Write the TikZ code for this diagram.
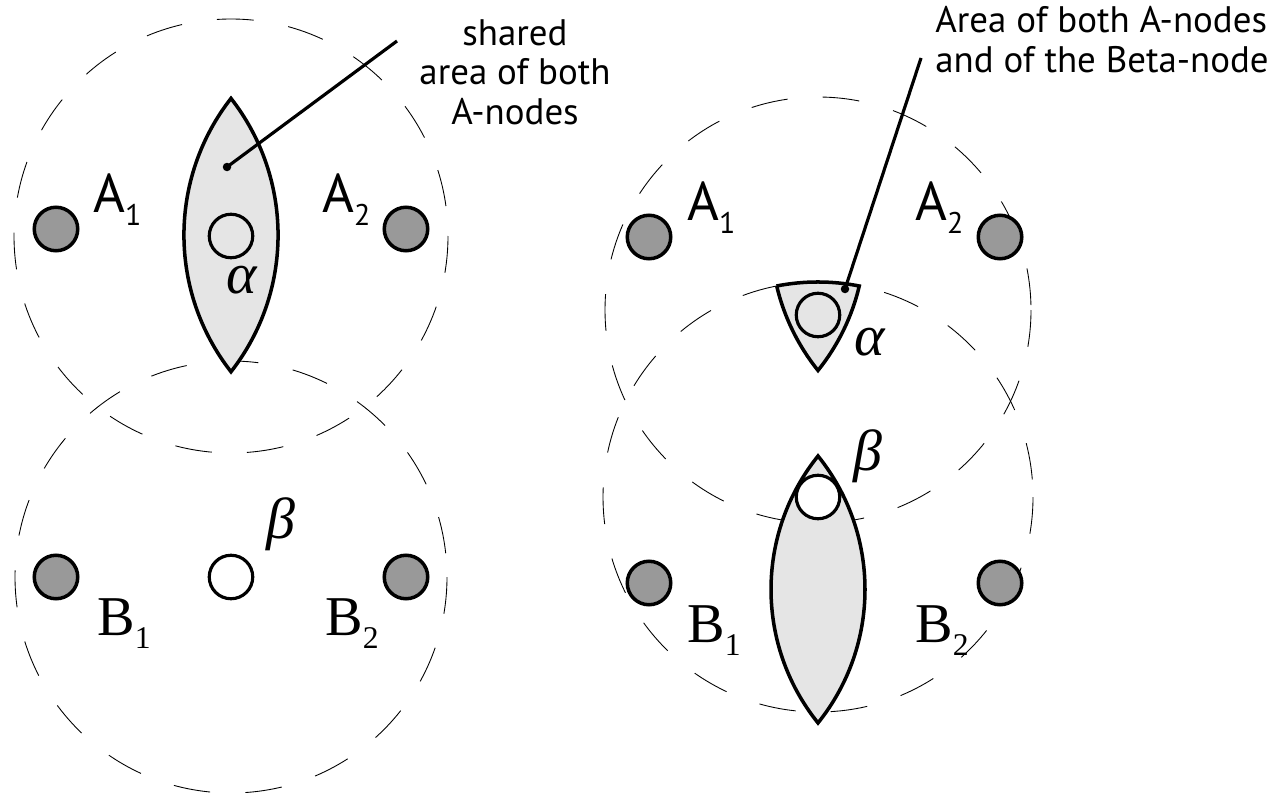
\documentclass[tikz,border=0pt]{standalone}
\usepackage{fontspec}
\setmainfont{PT Sans}
\newfontfamily\labelserif{Liberation Serif}
\usetikzlibrary{backgrounds}

\definecolor{nodegray}{gray}{0.6}
\definecolor{areagray}{gray}{0.9}

\newcommand{\idx}[3]{#2\raisebox{-0.24em}{\fontsize{#1}{#1}\selectfont #3}}

\tikzset{
  sensor/.style={circle, draw, line width=2pt, fill=nodegray, minimum size=0.87cm, inner sep=0pt},
  target/.style={circle, draw, line width=1.8pt, minimum size=0.87cm, inner sep=0pt},
  rangecircle/.style={draw, line width=0.5pt, dash pattern=on 21pt off 20pt},
  area/.style={draw, line width=2pt, fill=areagray},
  leader/.style={line width=1.8pt},
  pindot/.style={circle, fill, minimum size=0.17cm, inner sep=0pt},
  lbl/.style={inner sep=0pt, anchor=base west, font=\fontsize{31}{31}\selectfont},
  lblserif/.style={inner sep=0pt, anchor=base west, font=\fontsize{32}{32}\selectfont\labelserif},
  greek/.style={inner sep=0pt, anchor=base west, font=\fontsize{33}{33}\selectfont\labelserif\itshape},
  note/.style={inner sep=0pt, font=\fontsize{21}{22.5}\selectfont},
}

\begin{document}
\begin{tikzpicture}[x=0.02cm, y=-0.02cm]
	\useasboundingbox (0,0) rectangle (1270,794);

	% left picture
	\node[sensor] (la1) at (56,229) {};
	\node[sensor] (la2) at (406,229) {};
	\node[target] (lal) at (231,236) {};
	\node[target] (lbe) at (231,577) {};
	\node[sensor] (lb1) at (56,577) {};
	\node[sensor] (lb2) at (406,577) {};

	% right picture
	\node[sensor] (ra1) at (649,237) {};
	\node[sensor] (ra2) at (1000,237) {};
	\node[target] (ral) at (818,315) {};
	\node[target, fill=white] (rbe) at (818,497) {};
	\node[sensor] (rb1) at (649,583) {};
	\node[sensor] (rb2) at (1000,583) {};

	\begin{scope}[on background layer]
		\draw[rangecircle] (lal) circle[radius=217];
		\draw[rangecircle] (lbe) circle[radius=216];
		\draw[rangecircle] ([yshift=0.1cm]ral.center) circle[radius=213];
		\draw[rangecircle] (rbe) circle[radius=215];

		% shared area of A1 and A2
		\draw[area] (231,98.4) arc[start angle=218, end angle=142, radius=222]
			arc[start angle=38, end angle=-38, radius=222] -- cycle;
		% A1, A2 and beta
		\draw[area] (776.7,286) arc[start angle=166.7, end angle=141.2, radius=213]
			arc[start angle=38.8, end angle=13.3, radius=213]
			arc[start angle=281.1, end angle=258.9, radius=215] -- cycle;
		% B1 and B2
		\draw[area] (818,456) arc[start angle=218.8, end angle=141.2, radius=213]
			arc[start angle=38.8, end angle=-38.8, radius=213] -- cycle;
	\end{scope}

	% labels
	\node[lbl] (tla1) at (93,212) {\idx{17}{A}{1}};
	\node[lbl] (tla2) at (322,212) {\idx{17}{A}{2}};
	\node[greek] (tlal) at (226,293) {α};
	\node[greek] (tlbe) at (266,538) {β};
	\node[lblserif] (tlb1) at (97,635) {\idx{18}{B}{1}};
	\node[lblserif] (tlb2) at (325,635) {\idx{18}{B}{2}};

	\node[lbl] (tra1) at (687,220) {\idx{17}{A}{1}};
	\node[lbl] (tra2) at (915,220) {\idx{17}{A}{2}};
	\node[greek] (tral) at (854,355) {α};
	\node[greek] (trbe) at (853,470) {β};
	\node[lblserif] (trb1) at (687,642) {\idx{18}{B}{1}};
	\node[lblserif] (trb2) at (915,642) {\idx{18}{B}{2}};

	% notes with leaders
	\node[note, align=center] (lnote) at (515,72) {shared\\area of both\\A-nodes};
	\node[pindot] (ldot) at (227,167) {};
	\coordinate (lend) at (397,41);
	\draw[leader] (ldot.center) -- (lend);

	\node[note, align=left, anchor=north west, font=\fontsize{21}{23}\selectfont] (rnote) at (935,6) {Area of both A-nodes\\and of the Beta-node};
	\node[pindot] (rdot) at (845,289) {};
	\coordinate (rend) at (921,58);
	\draw[leader] (rdot.center) -- (rend);
\end{tikzpicture}
\end{document}
